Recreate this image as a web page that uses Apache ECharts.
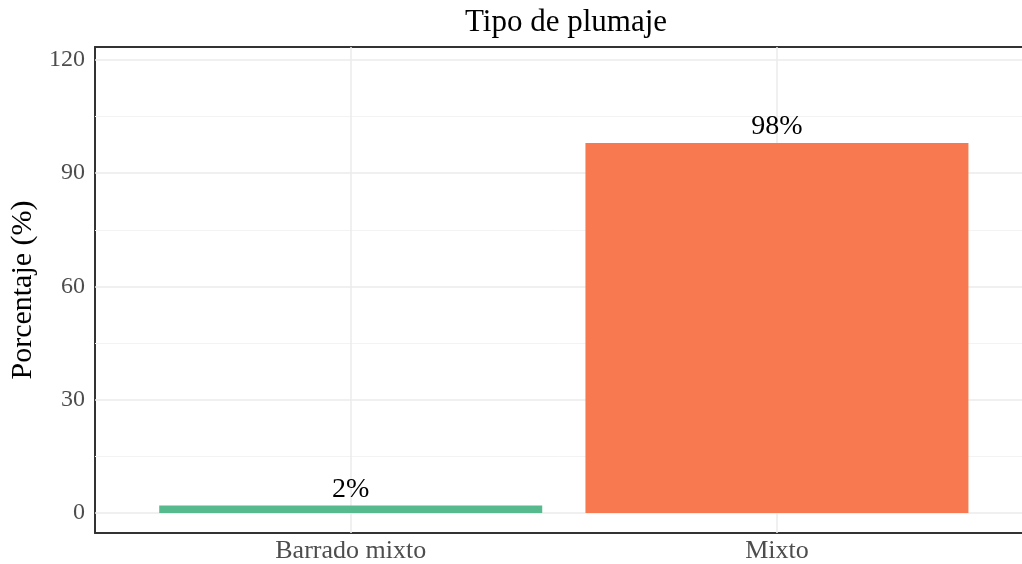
<!DOCTYPE html>
<html>
<head>
<meta charset="utf-8">
<script src="https://cdn.jsdelivr.net/npm/echarts@6/dist/echarts.min.js"></script>
<style>
  html, body { margin: 0; padding: 0; background: #fff; }
  #chart { width: 1022px; height: 564px; }
</style>
</head>
<body>
<div id="chart"></div>
<script>
// datos
const categories = ['Barrado mixto', 'Mixto'];
const positions = [1, 2];
const percentages = [2, 98];
const barColors = ['#57BA8F', '#F87950'];
const yTicks = [0, 30, 60, 90, 120];
const yMinorTicks = [15, 45, 75, 105];

const fontFam = '"Liberation Serif", "DejaVu Serif", serif';
const frameLine = { show: true, onZero: false, lineStyle: { color: '#333', width: 2 } };

let myChart = echarts.init(document.getElementById('chart'));

// lineas de la cuadricula (detras de las barras)
let gridLines = [];
yMinorTicks.forEach(v => gridLines.push({ yAxis: v, lineStyle: { color: '#f3f3f3', width: 1, type: 'solid' } }));
yTicks.forEach(v => gridLines.push({ yAxis: v, lineStyle: { color: '#ebebeb', width: 1.5, type: 'solid' } }));
positions.forEach(v => gridLines.push({ xAxis: v, lineStyle: { color: '#ebebeb', width: 1.5, type: 'solid' } }));

let options = {
    animation: false,
    title: {
        text: 'Tipo de plumaje',
        left: 561,
        top: 2,
        textAlign: 'center',
        textStyle: {
            fontFamily: fontFam,
            fontSize: 31,
            fontWeight: 'normal',
            color: '#000'
        }
    },
    grid: {
        left: 95,
        right: 0,
        top: 47,
        bottom: 30
    },
    xAxis: [
        {
            type: 'value',
            min: 0.4,
            max: 2.575,
            splitLine: { show: false },
            axisLine: frameLine,
            axisTick: { show: false },
            axisLabel: {
                customValues: positions,
                formatter: function (v) {
                    let i = positions.indexOf(v);
                    return i >= 0 ? categories[i] : '';
                },
                fontFamily: fontFam,
                fontSize: 26,
                color: '#4d4d4d',
                margin: 5
            }
        },
        {
            type: 'value',
            position: 'top',
            min: 0.4,
            max: 2.575,
            splitLine: { show: false },
            axisLine: frameLine,
            axisTick: { show: false },
            axisLabel: { show: false }
        }
    ],
    yAxis: {
        type: 'value',
        min: -5.3,
        max: 123.4,
        name: 'Porcentaje (%)',
        nameLocation: 'middle',
        nameGap: 53,
        nameTextStyle: {
            fontFamily: fontFam,
            fontSize: 30,
            color: '#000'
        },
        splitLine: { show: false },
        axisLine: frameLine,
        axisTick: { show: false },
        axisLabel: {
            customValues: yTicks,
            fontFamily: fontFam,
            fontSize: 24,
            color: '#4d4d4d',
            margin: 10
        }
    },
    series: [
        {
            type: 'line',
            data: [],
            silent: true,
            z: 1,
            markLine: {
                silent: true,
                z: 1,
                symbol: ['none', 'none'],
                label: { show: false },
                animation: false,
                data: gridLines
            }
        },
        {
            type: 'bar',
            z: 3,
            barWidth: 383,
            data: positions.map((p, i) => ({
                value: [p, percentages[i]],
                itemStyle: { color: barColors[i] }
            })),
            label: {
                show: true,
                position: 'top',
                distance: 2,
                formatter: function (params) {
                    return params.value[1] + '%';
                },
                fontFamily: fontFam,
                fontSize: 28,
                color: '#000'
            }
        }
    ]
};

myChart.setOption(options);
</script>
</body>
</html>
